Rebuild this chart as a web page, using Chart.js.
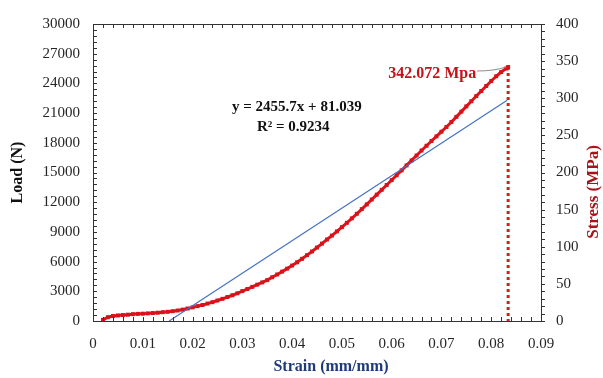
<!DOCTYPE html>
<html>
<head>
<meta charset="utf-8">
<script src="https://cdn.jsdelivr.net/npm/chart.js@4.4.0/dist/chart.umd.min.js"></script>
<style>
html,body{margin:0;padding:0;background:#fff;}
</style>
</head>
<body>
<canvas id="myChart" width="603" height="378"></canvas>
<script>
// strain (mm/mm) vs load (N)
var strain = [0.002,0.003,0.004,0.005,0.006,0.007,0.008,0.009,0.010,0.011,
              0.012,0.013,0.014,0.015,0.016,0.017,0.018,0.019,0.020,0.021,
              0.022,0.023,0.024,0.025,0.026,0.027,0.028,0.029,0.030,0.031,
              0.032,0.033,0.034,0.035,0.036,0.037,0.038,0.039,0.040,0.041,
              0.042,0.043,0.044,0.045,0.046,0.047,0.048,0.049,0.050,0.051,
              0.052,0.053,0.054,0.055,0.056,0.057,0.058,0.059,0.060,0.061,
              0.062,0.063,0.064,0.065,0.066,0.067,0.068,0.069,0.070,0.071,
              0.072,0.073,0.074,0.075,0.076,0.077,0.078,0.079,0.080,0.081,
              0.082,0.083,0.0834];
var load = [120,380,500,560,600,640,690,720,740,770,
            800,840,890,930,990,1060,1150,1260,1380,1500,
            1620,1760,1900,2070,2240,2420,2600,2800,3020,3230,
            3450,3670,3900,4130,4420,4700,4990,5290,5600,5930,
            6280,6650,7020,7420,7820,8230,8630,9050,9480,9920,
            10370,10830,11300,11780,12270,12760,13250,13740,14230,14720,
            15220,15720,16220,16720,17220,17700,18180,18650,19120,19600,
            20100,20620,21150,21680,22200,22720,23230,23740,24240,24720,
            25150,25500,25655];

// linear trend line end points
var trendX = [0.0153, 0.0832];
var trendY = [0, 22300];

var peakStrain = 0.0834;
var peakLoad = 25655;
var peakLabel = '342.072 Mpa';
var eqLines = ['y = 2455.7x + 81.039', 'R\u00b2 = 0.9234'];

var curve = [];
for (var i = 0; i < strain.length; i++) curve.push({x: strain[i], y: load[i]});
var trend = [{x: trendX[0], y: trendY[0]}, {x: trendX[1], y: trendY[1]}];
var drop = [{x: peakStrain, y: peakLoad}, {x: peakStrain, y: 0}];

var serif = "'Liberation Serif', 'DejaVu Serif', serif";
var tickFont = {family: serif, size: 15};

var extras = {
  id: 'extras',
  afterDraw: function(chart) {
    var ctx = chart.ctx, a = chart.chartArea;
    var x = chart.scales.x, y = chart.scales.y, y1 = chart.scales.y1;
    ctx.save();
    ctx.strokeStyle = '#333';
    ctx.lineWidth = 1;
    ctx.beginPath();
    ctx.moveTo(a.left, a.top + 0.5);
    ctx.lineTo(a.right, a.top + 0.5);
    for (var i = 0; i <= 45; i++) {
      var px = Math.round(x.getPixelForValue(i * 0.002)) + 0.5;
      ctx.moveTo(px, a.bottom); ctx.lineTo(px, a.bottom - 4);
      ctx.moveTo(px, a.top); ctx.lineTo(px, a.top + 4);
    }
    for (var j = 0; j <= 50; j++) {
      var py = Math.round(y.getPixelForValue(j * 600)) + 0.5;
      ctx.moveTo(a.left, py); ctx.lineTo(a.left + 4, py);
    }
    for (var k = 0; k <= 40; k++) {
      var py2 = Math.round(y1.getPixelForValue(k * 10)) + 0.5;
      ctx.moveTo(a.right, py2); ctx.lineTo(a.right + 4, py2);
    }
    ctx.stroke();

    // peak annotation
    var pkx = x.getPixelForValue(peakStrain), pky = y.getPixelForValue(peakLoad);
    ctx.strokeStyle = '#8a8a8a';
    ctx.lineWidth = 1;
    ctx.beginPath();
    ctx.moveTo(pkx - 31, pky + 4);
    ctx.quadraticCurveTo(pkx - 14, pky + 4, pkx - 2, pky);
    ctx.stroke();
    ctx.fillStyle = '#C8101A';
    ctx.font = 'bold 16px ' + serif;
    ctx.textAlign = 'right';
    ctx.textBaseline = 'middle';
    ctx.fillText(peakLabel, pkx - 32, pky + 7);

    // trend equation
    ctx.fillStyle = '#111';
    ctx.font = 'bold 15px ' + serif;
    ctx.textAlign = 'center';
    ctx.fillText(eqLines[0], a.left + (a.right - a.left) * 0.455, a.top + 83);
    ctx.fillText(eqLines[1], a.left + (a.right - a.left) * 0.447, a.top + 103);

    // axis titles
    ctx.font = 'bold 16px ' + serif;
    ctx.fillStyle = '#1F3A78';
    ctx.fillText('Strain (mm/mm)', 331, 367);

    ctx.save();
    ctx.translate(18, (a.top + a.bottom) / 2);
    ctx.rotate(-Math.PI / 2);
    ctx.fillStyle = '#111';
    ctx.fillText('Load (N)', 0, 0);
    ctx.restore();

    ctx.save();
    ctx.translate(594, 192);
    ctx.rotate(-Math.PI / 2);
    ctx.fillStyle = '#A8141A';
    ctx.font = 'bold 17px ' + serif;
    ctx.fillText('Stress (MPa)', 0, 0);
    ctx.restore();
    ctx.restore();
  }
};

new Chart('myChart', {
  type: 'scatter',
  data: {
    datasets: [{
      data: trend,
      showLine: true,
      borderColor: '#4472C4',
      borderWidth: 1.2,
      pointRadius: 0,
      order: 0
    }, {
      data: curve,
      showLine: true,
      borderColor: '#E0141C',
      borderWidth: 3,
      pointStyle: 'rect',
      pointRadius: 2.8,
      pointBackgroundColor: '#D8121A',
      pointBorderColor: '#D8121A',
      pointBorderWidth: 0,
      order: 1
    }, {
      data: drop,
      showLine: true,
      borderColor: '#E3161E',
      borderWidth: 3,
      borderDash: [3, 3],
      pointRadius: 0,
      order: 2
    }]
  },
  options: {
    responsive: false,
    animation: false,
    devicePixelRatio: 1,
    layout: {padding: {top: 19, left: 0, right: 0, bottom: 0}},
    plugins: {legend: {display: false}, tooltip: {enabled: false}},
    scales: {
      x: {
        type: 'linear', min: 0, max: 0.09,
        grid: {display: false, drawTicks: false},
        border: {color: '#333'},
        ticks: {stepSize: 0.01, padding: 14, font: tickFont, color: '#262626',
                callback: function(v) { return v === 0 ? '0' : v.toFixed(2); }},
        afterFit: function(s) { s.height = 57; }
      },
      y: {
        position: 'left', min: 0, max: 30000,
        grid: {display: false, drawTicks: false},
        border: {color: '#333'},
        ticks: {stepSize: 3000, padding: 13, font: tickFont, color: '#262626',
                callback: function(v) { return String(v); }},
        afterFit: function(s) { s.width = 93; }
      },
      y1: {
        position: 'right', min: 0, max: 400,
        grid: {display: false, drawTicks: false},
        border: {color: '#333'},
        ticks: {stepSize: 50, padding: 15, font: tickFont, color: '#262626',
                callback: function(v) { return String(v); }},
        afterFit: function(s) { s.width = 62; }
      }
    }
  },
  plugins: [extras]
});
</script>
</body>
</html>
